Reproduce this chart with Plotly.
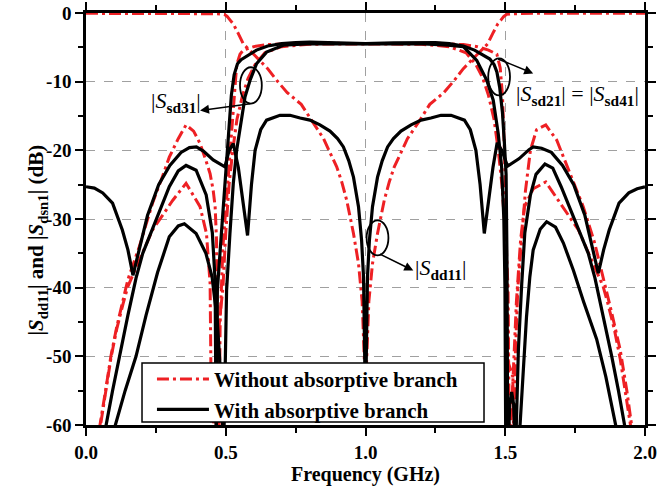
import plotly.graph_objects as go

# ---------------- data ----------------
# Red dash-dot: without absorptive branch
rd_dd11_f = [0.000, 0.200, 0.400, 0.470, 0.495, 0.505, 0.515, 0.527, 0.545, 0.563, 0.590, 0.610, 0.650, 0.682, 0.720,
             0.770, 0.810, 0.850, 0.875, 0.897, 0.915, 0.933, 0.957, 0.975, 0.988, 1.000,
             1.012, 1.025, 1.043, 1.067, 1.085, 1.103, 1.125, 1.150, 1.190, 1.230, 1.280, 1.318, 1.350, 1.390, 1.410,
             1.437, 1.455, 1.473, 1.485, 1.495, 1.505, 1.530, 1.600, 1.800, 2.000]
rd_dd11_db = [-0.05, -0.05, -0.05, -0.1, -0.2, -0.5, -1.0, -1.6, -3.0, -4.5, -5.6, -6.4, -8.1, -9.8, -11.6,
              -13.3, -15.9, -18.3, -20.5, -22.4, -24.6, -27.3, -32.1, -36.5, -42.0, -55.0,
              -42.0, -36.5, -32.1, -27.3, -24.6, -22.4, -20.5, -18.3, -15.9, -13.3, -11.6, -9.8, -8.1, -6.4, -5.6,
              -4.5, -3.0, -1.6, -1.0, -0.5, -0.2, -0.1, -0.05, -0.05, -0.05]

rd_s21_f = [0.040, 0.050, 0.070, 0.089, 0.110, 0.133, 0.150, 0.191, 0.238, 0.270, 0.298, 0.330, 0.358, 0.385, 0.408,
            0.430, 0.444, 0.455, 0.462, 0.467, 0.471, 0.475, 0.480, 0.490, 0.505, 0.518, 0.527, 0.539, 0.551, 0.563,
            0.600, 0.650, 0.750, 0.900, 1.000, 1.100, 1.250, 1.350, 1.400, 1.440, 1.470, 1.482, 1.490, 1.497, 1.503,
            1.507, 1.511, 1.520, 1.527, 1.531, 1.536, 1.545, 1.558, 1.572, 1.590, 1.612, 1.645, 1.684, 1.732, 1.779,
            1.820, 1.851, 1.880, 1.911, 1.935, 1.952, 1.962]
rd_s21_db = [-64, -60, -55, -50, -45.7, -41.8, -38.8, -34.0, -27.7, -24.2, -21.0, -18.3, -16.3, -17.2, -19.0,
             -21.6, -23.4, -25.8, -28.2, -33.1, -45, -65, -45, -34, -26, -19, -13, -7.6, -6.0, -5.4,
             -4.9, -4.6, -4.4, -4.45, -4.5, -4.45, -4.4, -4.6, -4.9, -5.4, -6.0, -8.0, -12.0, -20.0, -30.0,
             -42.0, -51.0, -52.0, -53.0, -65, -50, -40, -33, -26, -20, -17, -16.3, -18.5, -23.4, -28.2,
             -33.5, -38.5, -43.5, -49.0, -55.0, -60, -63]

rd_s31_f = [0.045, 0.052, 0.089, 0.110, 0.133, 0.150, 0.191, 0.238, 0.310, 0.358, 0.408, 0.431, 0.444, 0.450,
            0.470, 0.490, 0.500, 0.512, 0.525, 0.540, 0.560, 0.580, 0.605, 0.640, 0.700, 0.800, 0.900, 1.000,
            1.100, 1.200, 1.300, 1.360, 1.395, 1.420, 1.440, 1.460, 1.475, 1.488, 1.500, 1.510, 1.515, 1.540,
            1.555, 1.569, 1.600, 1.645, 1.690, 1.762, 1.809, 1.850, 1.867, 1.890, 1.911, 1.948, 1.955]
rd_s31_db = [-63, -60, -50.3, -46.0, -42.3, -39.8, -36.0, -31.6, -27.3, -24.8, -28.2, -32.1, -39.4, -65,
             -48, -40, -32, -25, -20, -15.5, -12.0, -9.5, -7.5, -5.8, -4.9, -4.55, -4.5, -4.55,
             -4.5, -4.55, -4.9, -5.8, -7.5, -9.5, -12.0, -15.5, -20.0, -25.0, -32.0, -40.0, -65, -42,
             -33, -28.2, -25.6, -24.6, -27.3, -31.6, -36.0, -39.8, -42.3, -46.0, -50.3, -60, -63]

# Black solid: with absorptive branch
bk_dd11_f = [0.000, 0.030, 0.060, 0.095, 0.130, 0.150, 0.168, 0.190, 0.220, 0.260, 0.300, 0.340, 0.370, 0.395, 0.420,
             0.455, 0.497, 0.512, 0.527, 0.545, 0.562, 0.578, 0.592, 0.605, 0.625, 0.646, 0.694, 0.730, 0.766, 0.801,
             0.837, 0.873, 0.900, 0.921, 0.940, 0.957, 0.975, 0.986, 0.993, 1.000,
             1.007, 1.014, 1.025, 1.043, 1.060, 1.079, 1.100, 1.127, 1.163, 1.199, 1.234, 1.270, 1.306, 1.354,
             1.375, 1.395, 1.410, 1.425, 1.440, 1.456, 1.471, 1.488, 1.508, 1.550, 1.585, 1.600, 1.630, 1.665,
             1.705, 1.745, 1.785, 1.812, 1.833, 1.852, 1.872, 1.907, 1.942, 1.972, 2.000]
bk_dd11_db = [-25.3, -25.5, -26.2, -27.7, -31.6, -34.5, -38.2, -34.5, -29.5, -25.0, -22.2, -20.3, -19.6, -19.5, -20.1,
              -21.4, -22.4, -20.0, -19.0, -22.5, -27.5, -32.4, -25.0, -20.0, -17.0, -15.6, -14.9, -14.9, -15.3, -15.6,
              -16.3, -17.2, -18.3, -19.5, -21.5, -23.9, -28.2, -33.1, -38.5, -58.0,
              -38.5, -33.1, -28.2, -23.9, -21.5, -19.5, -18.3, -17.2, -16.3, -15.6, -15.3, -14.9, -14.9, -15.6,
              -17.0, -20.0, -25.0, -32.1, -27.5, -22.5, -18.9, -20.0, -22.3, -21.2, -19.9, -19.5, -19.7, -20.3,
              -22.2, -25.0, -29.5, -34.5, -37.9, -34.5, -31.6, -27.7, -26.2, -25.6, -25.3]

bk_s21_f = [0.060, 0.072, 0.095, 0.119, 0.150, 0.179, 0.203, 0.250, 0.298, 0.330, 0.358, 0.394, 0.430, 0.452, 0.462,
            0.466, 0.470, 0.480, 0.497, 0.510, 0.520, 0.530, 0.542, 0.555, 0.575, 0.610, 0.650, 0.700, 0.750, 0.800,
            0.900, 1.000, 1.100, 1.200, 1.250, 1.300, 1.350, 1.390, 1.425, 1.445, 1.460, 1.470, 1.480, 1.490, 1.497,
            1.503, 1.506, 1.509, 1.516, 1.523, 1.530, 1.536, 1.541, 1.547, 1.559, 1.570, 1.590, 1.610, 1.642, 1.670,
            1.700, 1.750, 1.797, 1.821, 1.850, 1.881, 1.905, 1.928, 1.940]
bk_s21_db = [-63, -60, -55, -50, -44, -38.6, -35.0, -30.2, -25.3, -23.0, -22.2, -22.9, -26.5, -32.0, -39.0,
             -65, -40.4, -34.6, -24.8, -17.0, -12.0, -9.0, -7.4, -6.8, -6.3, -5.4, -4.8, -4.45, -4.3, -4.25,
             -4.35, -4.45, -4.35, -4.25, -4.3, -4.45, -4.8, -5.4, -6.3, -6.7, -7.5, -8.6, -10.8, -14.5, -19.0,
             -23.5, -35.0, -65, -57, -55.2, -57, -65, -58, -49, -39.4, -32.0, -26.5, -23.5, -22.0, -22.6,
             -25.3, -30.2, -35.0, -38.6, -44.0, -50.0, -55.0, -60, -63]

bk_s31_f = [0.095, 0.105, 0.140, 0.179, 0.215, 0.256, 0.298, 0.330, 0.352, 0.394, 0.429, 0.451, 0.470, 0.485, 0.492,
            0.503, 0.515, 0.527, 0.539, 0.551, 0.569, 0.587, 0.610, 0.646, 0.706, 0.790, 0.900, 1.000,
            1.100, 1.210, 1.294, 1.350, 1.398, 1.434, 1.457, 1.475, 1.487, 1.495, 1.499, 1.502, 1.530, 1.553,
            1.576, 1.588, 1.600, 1.625, 1.648, 1.680, 1.708, 1.744, 1.780, 1.827, 1.860, 1.898, 1.910]
bk_s31_db = [-63, -60, -55, -50, -44, -37.8, -32.6, -31.0, -30.7, -32.1, -35.0, -38.4, -45, -55, -65,
             -40.4, -32.1, -24.8, -20.0, -16.6, -12.2, -9.8, -7.4, -5.7, -4.7, -4.5, -4.5, -4.45,
             -4.5, -4.5, -4.7, -4.9, -6.9, -9.8, -12.7, -17.6, -22.4, -30.0, -40.0, -65, -68, -60,
             -44.3, -38.4, -34.5, -31.5, -30.4, -31.2, -33.5, -37.5, -42.0, -47.5, -53.0, -60, -63]

x_tickvals = [0.0, 0.5, 1.0, 1.5, 2.0]
x_ticktext = ["0.0", "0.5", "1.0", "1.5", "2.0"]
y_tickvals = [0, -10, -20, -30, -40, -50, -60]
y_ticktext = ["0", "-10", "-20", "-30", "-40", "-50", "-60"]

# ---------------- figure ----------------
FONT = "Liberation Serif, Times New Roman, serif"
RED = "rgb(238,32,36)"
fig = go.Figure()

red_dash = "12px,4px,3px,4px"
for i, (f, d) in enumerate([(rd_dd11_f, rd_dd11_db), (rd_s21_f, rd_s21_db), (rd_s31_f, rd_s31_db)]):
    fig.add_trace(go.Scatter(x=f, y=d, mode="lines", name="Without absorptive branch",
                             showlegend=(i == 0), legendrank=1,
                             line=dict(color=RED, width=3, dash=red_dash)))
for i, (f, d) in enumerate([(bk_dd11_f, bk_dd11_db), (bk_s21_f, bk_s21_db), (bk_s31_f, bk_s31_db)]):
    fig.add_trace(go.Scatter(x=f, y=d, mode="lines", name="With absorptive branch",
                             showlegend=(i == 0), legendrank=2,
                             line=dict(color="black", width=3.2)))

axis_common = dict(showline=True, linecolor="black", linewidth=2.5, mirror="allticks",
                   ticks="outside", ticklen=8, tickwidth=2, tickcolor="black",
                   showgrid=True, gridcolor="#a0a0a0", griddash="dash", gridwidth=1,
                   zeroline=False, automargin=False,
                   tickfont=dict(family=FONT, size=19, color="black", weight="bold"))

fig.update_xaxes(range=[0, 2], tickvals=x_tickvals, ticktext=x_ticktext,
                 minor=dict(dtick=0.25, ticklen=5, tickwidth=2, tickcolor="black", showgrid=False, ticks="outside"),
                 title=dict(text="<b>Frequency (GHz)</b>", font=dict(family=FONT, size=20, color="black"), standoff=0),
                 **axis_common)
fig.update_yaxes(range=[-60, 0], tickvals=y_tickvals, ticktext=y_ticktext,
                 minor=dict(dtick=5, ticklen=5, tickwidth=2, tickcolor="black", showgrid=False, ticks="outside"),
                 **axis_common)

fig.update_layout(
    width=659, height=499,
    margin=dict(l=86, r=14, t=13, b=74, autoexpand=False),
    plot_bgcolor="white", paper_bgcolor="white",
    font=dict(family=FONT, color="black"),
    legend=dict(x=0.118, y=-0.012, xanchor="left", yanchor="bottom",
                bgcolor="rgba(0,0,0,0)", borderwidth=0,
                font=dict(family=FONT, size=21, color="black", weight="bold"),
                itemwidth=52, tracegroupgap=0),
    shapes=[
        # legend frame
        dict(type="rect", xref="paper", yref="paper", x0=0.1002, x1=0.712, y0=0.0073, y1=0.1504,
             fillcolor="white", line=dict(color="black", width=1.5), layer="above"),
        dict(type="circle", xref="x", yref="y", x0=0.551, x1=0.629, y0=-13.2, y1=-7.9,
             line=dict(color="black", width=1.8)),
        dict(type="circle", xref="x", yref="y", x0=1.439, x1=1.517, y0=-12.0, y1=-6.6,
             line=dict(color="black", width=1.8)),
        dict(type="circle", xref="x", yref="y", x0=1.004, x1=1.082, y0=-35.3, y1=-30.2,
             line=dict(color="black", width=1.8)),
    ],
    annotations=[
        dict(x=-0.1145, y=0.45, xref="paper", yref="paper", showarrow=False, textangle=-90,
             text="<b>|<i>S</i><sub>dd11</sub>| and |<i>S</i><sub>dsn1</sub>| (dB)</b>",
             font=dict(family=FONT, size=21, color="black")),
        dict(x=0.408, y=-14.2, ax=0.593, ay=-13.2, xref="x", yref="y", axref="x", ayref="y",
             text="", showarrow=True, arrowhead=2, arrowsize=1.2, arrowwidth=1.5, arrowcolor="black"),
        dict(x=0.322, y=-13.0, xref="x", yref="y", showarrow=False,
             text="|<i>S</i><sub><b>sd31</b></sub>|", font=dict(family=FONT, size=22, color="black")),
        dict(x=1.600, y=-8.8, ax=1.469, ay=-6.6, xref="x", yref="y", axref="x", ayref="y",
             text="", showarrow=True, arrowhead=2, arrowsize=1.2, arrowwidth=1.5, arrowcolor="black"),
        dict(x=1.757, y=-12.0, xref="x", yref="y", showarrow=False,
             text="|<i>S</i><sub><b>sd21</b></sub>| = |<i>S</i><sub><b>sd41</b></sub>|",
             font=dict(family=FONT, size=22, color="black")),
        dict(x=1.171, y=-37.5, ax=1.046, ay=-35.0, xref="x", yref="y", axref="x", ayref="y",
             text="", showarrow=True, arrowhead=2, arrowsize=1.2, arrowwidth=1.5, arrowcolor="black"),
        dict(x=1.267, y=-37.3, xref="x", yref="y", showarrow=False,
             text="|<i>S</i><sub><b>dd11</b></sub>|", font=dict(family=FONT, size=22, color="black")),
    ],
)

fig.write_html("out.html", config={"displayModeBar": False},
               post_script="document.body.style.margin='0px';")
